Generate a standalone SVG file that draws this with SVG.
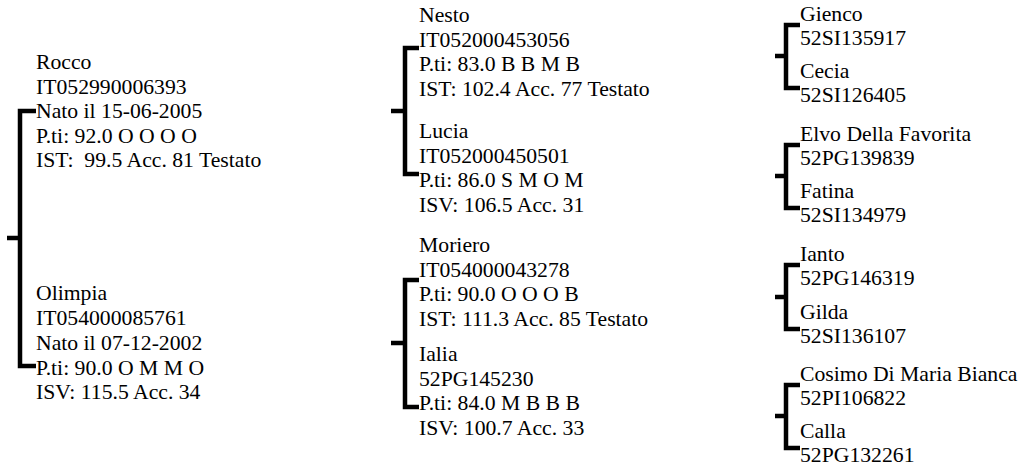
<svg xmlns="http://www.w3.org/2000/svg" width="1024" height="470" viewBox="0 0 1024 470">
<style>
text{font-family:"Liberation Serif","Times New Roman",serif;font-size:21.7px;fill:#000;white-space:pre}
.br{fill:none;stroke:#000;stroke-width:4.5}
</style>
<rect width="1024" height="470" fill="#fff"/>
<g id="connectors">
<path class="br" d="M36,111 H20 V366 H36 M7,238 H20"/>
<path class="br" d="M419,48 H405 V174 H419 M391,111 H405"/>
<path class="br" d="M419,280 H405 V407 H419 M391,343 H405"/>
<path class="br" d="M800,25 H786 V88 H800 M775,56 H786"/>
<path class="br" d="M800,145 H786 V208 H800 M775,176 H786"/>
<path class="br" d="M800,265 H786 V329 H800 M775,297 H786"/>
<path class="br" d="M800,385 H786 V448 H800 M775,416 H786"/>
</g>
<g id="rocco"><text x="36" y="69">Rocco</text><text x="36" y="94">IT052990006393</text><text x="36" y="118">Nato il 15-06-2005</text><text x="36" y="143">P.ti: 92.0 O O O O</text><text x="36" y="167">IST:  99.5 Acc. 81 Testato</text></g>
<g id="olimpia"><text x="36" y="300">Olimpia</text><text x="36" y="325">IT054000085761</text><text x="36" y="350">Nato il 07-12-2002</text><text x="36" y="375">P.ti: 90.0 O M M O</text><text x="36" y="399">ISV: 115.5 Acc. 34</text></g>
<g id="nesto"><text x="419" y="22">Nesto</text><text x="419" y="47">IT052000453056</text><text x="419" y="71">P.ti: 83.0 B B M B</text><text x="419" y="96">IST: 102.4 Acc. 77 Testato</text></g>
<g id="lucia"><text x="419" y="138">Lucia</text><text x="419" y="163">IT052000450501</text><text x="419" y="187">P.ti: 86.0 S M O M</text><text x="419" y="212">ISV: 106.5 Acc. 31</text></g>
<g id="moriero"><text x="419" y="252">Moriero</text><text x="419" y="277">IT054000043278</text><text x="419" y="301">P.ti: 90.0 O O O B</text><text x="419" y="326">IST: 111.3 Acc. 85 Testato</text></g>
<g id="ialia"><text x="419" y="361">Ialia</text><text x="419" y="386">52PG145230</text><text x="419" y="410">P.ti: 84.0 M B B B</text><text x="419" y="435">ISV: 100.7 Acc. 33</text></g>
<g id="gienco"><text x="800" y="21">Gienco</text><text x="800" y="45">52SI135917</text></g>
<g id="cecia"><text x="800" y="78">Cecia</text><text x="800" y="102">52SI126405</text></g>
<g id="elvo"><text x="800" y="141">Elvo Della Favorita</text><text x="800" y="165">52PG139839</text></g>
<g id="fatina"><text x="800" y="198">Fatina</text><text x="800" y="222">52SI134979</text></g>
<g id="ianto"><text x="800" y="261">Ianto</text><text x="800" y="285">52PG146319</text></g>
<g id="gilda"><text x="800" y="319">Gilda</text><text x="800" y="343">52SI136107</text></g>
<g id="cosimo"><text x="800" y="381">Cosimo Di Maria Bianca</text><text x="800" y="405">52PI106822</text></g>
<g id="calla"><text x="800" y="438">Calla</text><text x="800" y="462">52PG132261</text></g>
</svg>
